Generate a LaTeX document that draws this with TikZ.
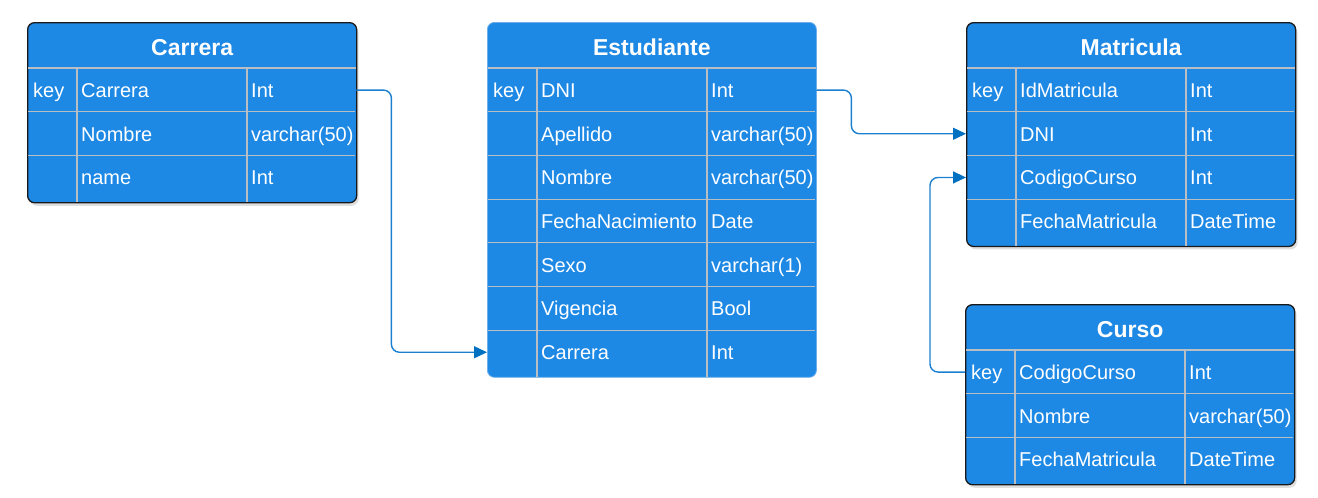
\documentclass[tikz,border=0pt]{standalone}
\usepackage{fontspec}
\setmainfont{Liberation Sans}
\usetikzlibrary{calc,shadows,arrows.meta}
\definecolor{tblfill}{RGB}{30,137,229}
\definecolor{gridc}{RGB}{185,190,196}
\definecolor{bordc}{RGB}{25,25,25}
\definecolor{lightbord}{RGB}{110,175,235}
\definecolor{connc}{RGB}{28,128,208}
\definecolor{tipc}{RGB}{0,112,192}
\tikzset{
 tablebox/.style={rectangle, rounded corners=7pt, fill=tblfill, minimum width=329pt, inner sep=0pt},
 darktable/.style={draw=bordc, line width=1.3pt, drop shadow={shadow xshift=2pt, shadow yshift=-3pt, opacity=0.25}},
 lighttable/.style={draw=lightbord, line width=0.8pt},
 rowbox/.style={rectangle, minimum width=329pt, minimum height=43.7pt, inner sep=0pt},
 gridline/.style={draw=gridc, line width=1.2pt},
 celltext/.style={text=white, font=\fontsize{20}{24}\selectfont, inner sep=0pt, anchor=base west},
 titletext/.style={text=white, font=\fontsize{23}{28}\selectfont\bfseries, inner sep=0pt, anchor=base},
 conn/.style={draw=connc, line width=1.4pt, rounded corners=8pt, -{Triangle[length=13pt,width=12pt,color=tipc]}},
}
\newcommand\erTable[7]{%
 \node[tablebox,#5,anchor=north west,minimum height={(49+43.7*#6)*1pt}] (#1) at (#2,#3) {};
 \node[titletext] (#1-title) at ($(#1.north)+(0,33.5)$) {#4};
 \draw[gridline] ($(#1.north west)+(1,46)$) -- ($(#1.north east)+(-1,46)$);
 \foreach \k/\f/\t [count=\i] in {#7} {
   \node[rowbox,anchor=north west] (#1\i) at ($(#1.north west)+(0,{46+43.7*(\i-1)})$) {};
   \ifnum\i>1
     \draw[gridline] ($(#1\i.north west)+(1,0)$) -- ($(#1\i.north east)+(-1,0)$);
   \fi
   \node[celltext] (#1\i-k) at ($(#1\i.north west)+(6,29.3)$) {\k};
   \node[celltext] (#1\i-f) at ($(#1\i.north west)+(54,29.3)$) {\f};
   \node[celltext] (#1\i-t) at ($(#1\i.north west)+(224,29.3)$) {\t};
 }
 \draw[gridline] ($(#1.north west)+(50,46)$) -- ($(#1.south west)+(50,-1)$);
 \draw[gridline] ($(#1.north west)+(220,46)$) -- ($(#1.south west)+(220,-1)$);
}
\begin{document}
\begin{tikzpicture}[x=1pt,y=-1pt]
\useasboundingbox (0,0) rectangle (1318,498);
\erTable{car}{27}{22}{Carrera}{darktable}{3}{key/Carrera/Int, {}/Nombre/varchar(50), {}/name/Int}
\erTable{est}{487}{22}{Estudiante}{lighttable}{7}{key/DNI/Int, {}/Apellido/varchar(50), {}/Nombre/varchar(50), {}/FechaNacimiento/Date, {}/Sexo/varchar(1), {}/Vigencia/Bool, {}/Carrera/Int}
\erTable{mat}{966}{22}{Matricula}{darktable}{4}{key/IdMatricula/Int, {}/DNI/Int, {}/CodigoCurso/Int, {}/FechaMatricula/DateTime}
\erTable{cur}{965}{304}{Curso}{darktable}{3}{key/CodigoCurso/Int, {}/Nombre/varchar(50), {}/FechaMatricula/DateTime}
\draw[conn] (car1.east) -- ++(35,0) |- (est7.west);
\draw[conn] (est1.east) -- ++(35,0) |- (mat2.west);
\draw[conn] (cur1.west) -- ++(-35,0) |- (mat3.west);
\end{tikzpicture}
\end{document}
